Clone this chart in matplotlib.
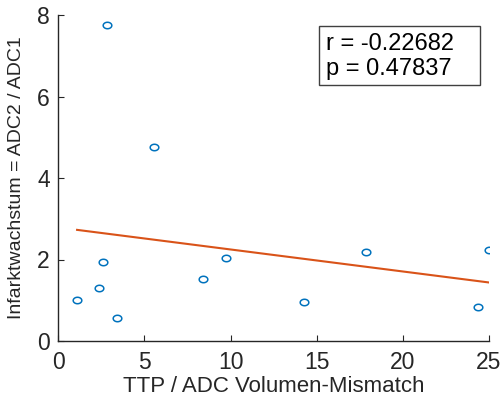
import matplotlib.pyplot as plt
import numpy as np
from matplotlib.path import Path
from matplotlib.patches import Rectangle

plt.rcParams['font.family'] = ['Liberation Sans', 'DejaVu Sans']

# Datenpunkte
mismatch = [1.09, 2.38, 2.59, 2.84, 3.39, 5.57, 8.40, 9.73, 14.28, 17.84, 24.36, 24.98]
wachstum = [1.01, 1.30, 1.95, 7.75, 0.56, 4.76, 1.52, 2.03, 0.96, 2.19, 0.83, 2.23]
r_text = "r = -0.22682"
p_text = "p = 0.47837"

x = np.array(mismatch)
y = np.array(wachstum)

# etwas breiter als hoch, wie im Original
t = np.linspace(0, 2 * np.pi, 60)
ellipse = Path(np.column_stack([np.cos(t), 0.75 * np.sin(t)]), closed=True)

fig = plt.figure(figsize=(5.04, 4.01), dpi=100)
ax = fig.add_axes([58.3 / 504, 1 - 341 / 401, (489 - 58.3) / 504, (341 - 15) / 401])

ax.plot(x, y, linestyle='none', marker=ellipse, markerfacecolor='none', markeredgecolor='#0072BD',
        markersize=6.2, markeredgewidth=1.1)

# Regressionsgerade
k, d = np.polyfit(x, y, 1)
xf = np.array([x.min(), x.max()])
ax.plot(xf, k * xf + d, color='#D95319', linewidth=1.5)

ax.set_xlim(0, 25)
ax.set_ylim(0, 8)
ax.set_xticks([0, 5, 10, 15, 20, 25])
ax.set_yticks([0, 2, 4, 6, 8])
for s in ['top', 'right']:
    ax.spines[s].set_visible(False)
for s in ['left', 'bottom']:
    ax.spines[s].set_color('#262626')
    ax.spines[s].set_linewidth(1.0)
ax.tick_params(direction='in', length=4, colors='#262626', labelsize=16.5)
ax.tick_params(axis='x', pad=7)
ax.tick_params(axis='y', pad=6)

ax.set_xlabel("TTP / ADC Volumen-Mismatch", fontsize=16, color='#262626', labelpad=2)
ax.set_ylabel("Infarktwachstum = ADC2 / ADC1", fontsize=14, color='#262626', labelpad=9)

# Textbox mit r und p
ax.add_patch(Rectangle((0.605, 0.785), 0.374, 0.181, transform=ax.transAxes, facecolor='white',
                       edgecolor='#404040', linewidth=1.0, clip_on=False, zorder=5))
ax.text(0.622, 0.893, r_text, transform=ax.transAxes, fontsize=17, va='baseline', ha='left',
        color='black', zorder=6)
ax.text(0.622, 0.816, p_text, transform=ax.transAxes, fontsize=17, va='baseline', ha='left',
        color='black', zorder=6)

fig.savefig("out.png", dpi=100)
